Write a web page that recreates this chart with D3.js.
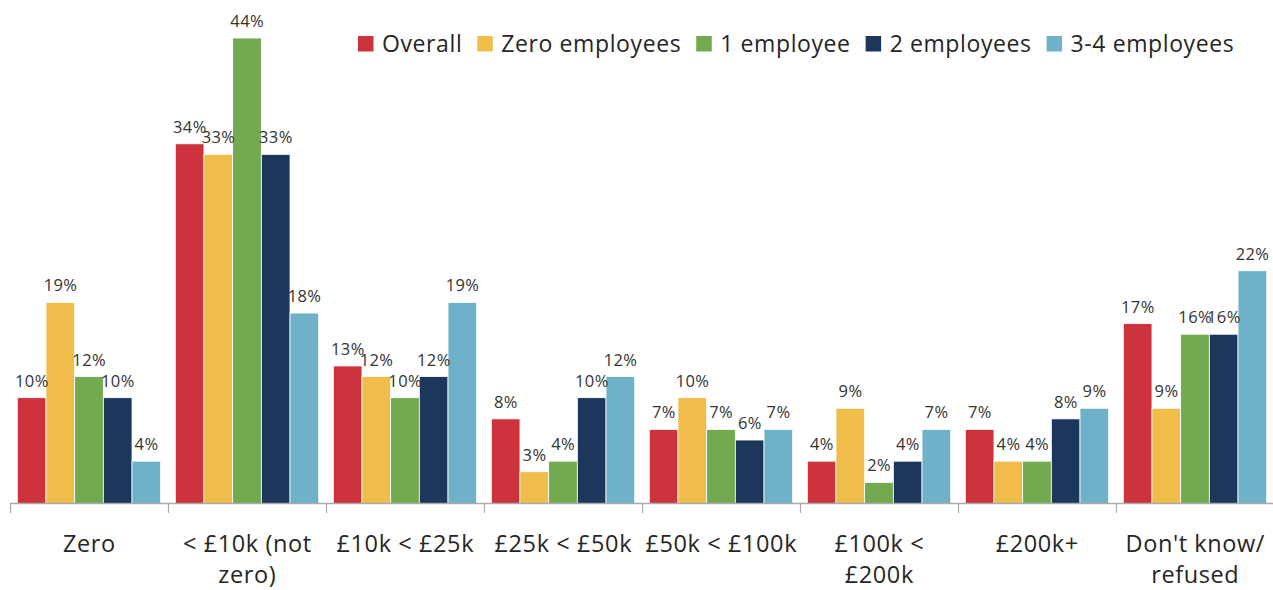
<!DOCTYPE html>
<html>
<head>
<meta charset="utf-8">
<script src="https://cdn.jsdelivr.net/npm/d3@7"></script>
<style>
  body { margin: 0; background: #fff; }
  svg { display: block; font-family: "Open Sans", "Noto Sans", sans-serif; }
</style>
</head>
<body>
<svg></svg>
<script>
const width = 1273,
  height = 590;

// ---- data ----
const categories = ["Zero", "< £10k (not\nzero)", "£10k < £25k", "£25k < £50k", "£50k < £100k", "£100k <\n£200k", "£200k+", "Don't know/\nrefused"];
const seriesNames = ["Overall", "Zero employees", "1 employee", "2 employees", "3-4 employees"];
const overall = [10, 34, 13, 8, 7, 4, 7, 17];
const zeroEmp = [19, 33, 12, 3, 10, 9, 4, 9];
const oneEmp = [12, 44, 10, 4, 7, 2, 4, 16];
const twoEmp = [10, 33, 12, 10, 6, 4, 8, 16];
const threeFourEmp = [4, 18, 19, 12, 7, 7, 9, 22];
const colors = ["#cd333c", "#f0bc4a", "#73aa50", "#1c365c", "#6fb1c9"];

const seriesValues = [overall, zeroEmp, oneEmp, twoEmp, threeFourEmp];

const svg = d3.select("svg").attr("width", width).attr("height", height);

////////////////// SCALES //////////////////
const x = d3.scaleBand().domain(categories).range([10, 1274]);
const xSub = d3
  .scaleBand()
  .domain(seriesNames)
  .range([7.3, x.bandwidth() - 7.3]);
const y = d3.scaleLinear().domain([0, 44]).range([503.5, 38]);

////////////////// BARS //////////////////
const groups = svg
  .selectAll(".cat")
  .data(categories)
  .enter()
  .append("g")
  .attr("class", "cat")
  .attr("transform", d => "translate(" + x(d) + ",0)");

groups.each(function(cat, ci) {
  const g = d3.select(this);
  const rows = seriesNames.map((s, si) => ({ s: s, v: seriesValues[si][ci], c: colors[si] }));

  g.selectAll("rect")
    .data(rows)
    .enter()
    .append("rect")
    .attr("x", d => xSub(d.s))
    .attr("y", d => y(d.v))
    .attr("width", xSub.bandwidth())
    .attr("height", d => y(0) - y(d.v))
    .attr("fill", d => d.c)
    .attr("stroke", "#ffffff")
    .attr("stroke-width", 0.8);

  g.selectAll("text.val")
    .data(rows)
    .enter()
    .append("text")
    .attr("class", "val")
    .attr("x", d => xSub(d.s) + xSub.bandwidth() / 2 + 0.2)
    .attr("y", d => y(d.v) - 11)
    .attr("text-anchor", "middle")
    .attr("font-size", 16.5)
    .attr("letter-spacing", 0.4)
    .attr("fill", "#333")
    .text(d => d.v + "%");
});

////////////////// AXIS //////////////////
const axis = svg.append("g");
axis
  .append("line")
  .attr("x1", 10)
  .attr("x2", width)
  .attr("y1", 503.5)
  .attr("y2", 503.5)
  .attr("stroke", "#aaaaaa")
  .attr("stroke-width", 1.5);

axis
  .selectAll(".tick")
  .data(categories)
  .enter()
  .append("line")
  .attr("x1", d => Math.round(x(d)) + 0.5)
  .attr("x2", d => Math.round(x(d)) + 0.5)
  .attr("y1", 503.5)
  .attr("y2", 513)
  .attr("stroke", "#aaaaaa")
  .attr("stroke-width", 1.2);

axis
  .selectAll(".catlabel")
  .data(categories)
  .enter()
  .append("text")
  .attr("class", "catlabel")
  .attr("text-anchor", "middle")
  .attr("font-size", 23.5)
  .attr("letter-spacing", 0.6)
  .attr("fill", "#262626")
  .each(function(d) {
    const t = d3.select(this);
    d.split("\n").forEach((line, i) => {
      t.append("tspan")
        .attr("x", x(d) + x.bandwidth() / 2 + 0.3)
        .attr("y", 551.5 + i * 31)
        .text(line);
    });
  });

////////////////// LEGEND //////////////////
const legend = svg.append("g").attr("transform", "translate(358,0)");
let lx = 0;
seriesNames.forEach((name, i) => {
  const item = legend.append("g").attr("transform", "translate(" + lx + ",0)");
  item
    .append("rect")
    .attr("x", 0)
    .attr("y", 36)
    .attr("width", 15.5)
    .attr("height", 15.5)
    .attr("fill", colors[i]);
  const txt = item
    .append("text")
    .attr("x", 24)
    .attr("y", 52)
    .attr("font-size", 23)
    .attr("letter-spacing", 0.6)
    .attr("fill", "#262626")
    .text(name);
  lx += 24 + txt.node().getComputedTextLength() + 15;
});
</script>
</body>
</html>
